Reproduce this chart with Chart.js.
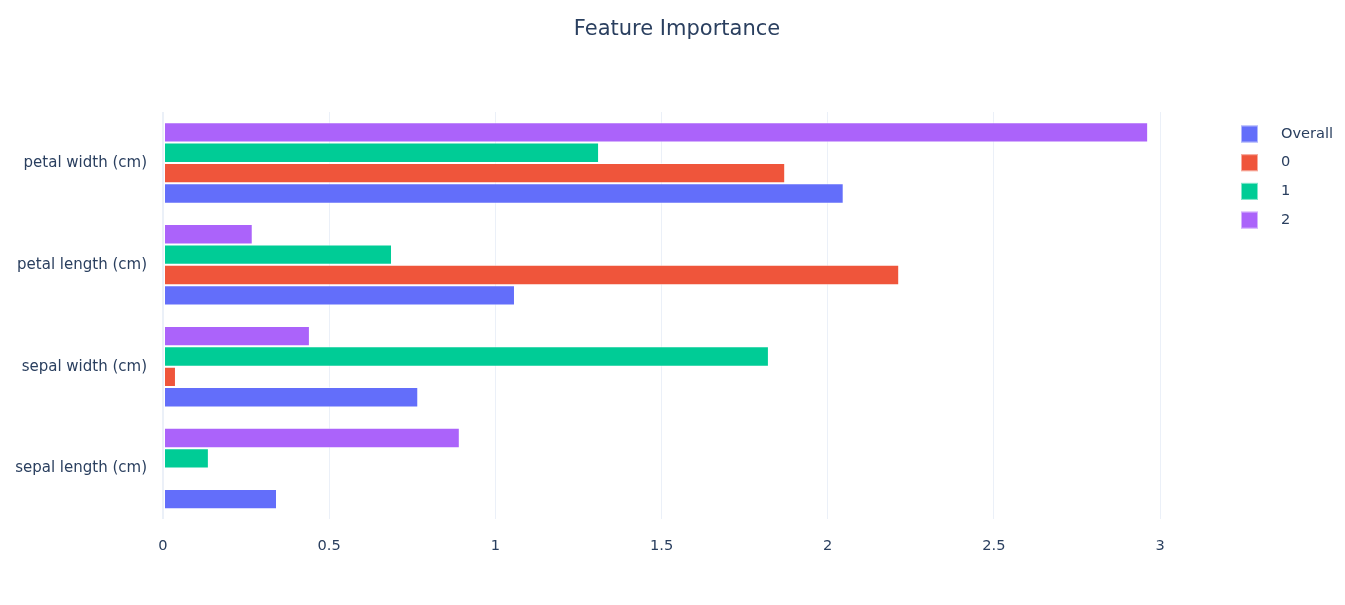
<!DOCTYPE html>
<html>
<head>
<meta charset="utf-8">
<script src="https://cdn.jsdelivr.net/npm/chart.js@4/dist/chart.umd.min.js"></script>
<style>
  body { margin: 0; background: #fff; }
  #wrap { width: 1345px; height: 605px; }
</style>
</head>
<body>
<div id="wrap"><canvas id="chart-importance" width="1345" height="605"></canvas></div>
<script>
// categories, top to bottom
const features = ["petal width (cm)", "petal length (cm)", "sepal width (cm)", "sepal length (cm)"];
const xTicks = [0, 0.5, 1, 1.5, 2, 2.5, 3];

// importance per series
const overall = [2.048, 1.059, 0.768, 0.343];
const class0 = [1.872, 2.215, 0.039, 0.002];
const class1 = [1.312, 0.689, 1.823, 0.138];
const class2 = [2.964, 0.270, 0.442, 0.893];

const seriesNames = ["Overall", "0", "1", "2"];
const seriesColors = ["#636efa", "#EF553B", "#00cc96", "#ab63fa"];
const chartTitle = "Feature Importance";

const FONT = "DejaVu Sans";
const INK = "#2a3f5f";

// title centred on the whole page, legend as squares on the right (first series on top)
const pageDecor = {
  id: "pageDecor",
  afterDraw(chart) {
    const ctx = chart.ctx;
    ctx.save();
    ctx.fillStyle = INK;
    ctx.font = "21px " + FONT;
    ctx.textAlign = "center";
    ctx.textBaseline = "middle";
    ctx.fillText(chartTitle, 677, 30);

    const sets = chart.data.datasets.slice().reverse();
    ctx.font = "14.6px " + FONT;
    ctx.textAlign = "left";
    sets.forEach((ds, i) => {
      const y = 134 + i * 28.7;
      ctx.fillStyle = ds.backgroundColor;
      ctx.fillRect(1241, y - 8.5, 17, 17);
      ctx.strokeStyle = "rgba(255,255,255,0.5)";
      ctx.lineWidth = 1;
      ctx.strokeRect(1241.5, y - 8, 16, 16);
      ctx.fillStyle = INK;
      ctx.fillText(ds.label, 1281, y);
    });
    ctx.restore();
  }
};

// datasets listed top-of-group first, so the order is 2, 1, 0, Overall
const values = [overall, class0, class1, class2];
const datasets = [3, 2, 1, 0].map(i => ({
  label: seriesNames[i],
  data: values[i],
  backgroundColor: seriesColors[i],
  borderColor: "rgba(255,255,255,0.5)",
  borderWidth: 1,
  borderSkipped: false,
  categoryPercentage: 0.8,
  barPercentage: 1.0
}));

const ctx = document.getElementById("chart-importance").getContext("2d");
new Chart(ctx, {
  type: "bar",
  data: { labels: features, datasets: datasets },
  options: {
    indexAxis: "y",
    responsive: false,
    animation: false,
    layout: { padding: { left: 0, right: 145, top: 112, bottom: 32 } },
    plugins: {
      legend: { display: false },
      tooltip: { enabled: false },
      title: { display: false }
    },
    scales: {
      x: {
        min: 0,
        max: 3.12,
        afterBuildTicks: function(scale) {
          scale.ticks = xTicks.map(v => ({ value: v }));
        },
        border: { display: false },
        grid: {
          color: "#EBF0F8",
          lineWidth: c => (c.tick && c.tick.value === 0 ? 2 : 1),
          drawTicks: false
        },
        ticks: {
          color: INK,
          padding: 18,
          maxRotation: 0,
          font: { family: FONT, size: 14.6 },
          callback: v => String(v)
        }
      },
      y: {
        border: { display: false },
        grid: { display: false, drawTicks: false },
        afterFit: function(scale) { scale.width = 163; },
        ticks: {
          color: INK,
          padding: 16,
          font: { family: FONT, size: 15 }
        }
      }
    }
  },
  plugins: [pageDecor]
});
</script>
</body>
</html>
